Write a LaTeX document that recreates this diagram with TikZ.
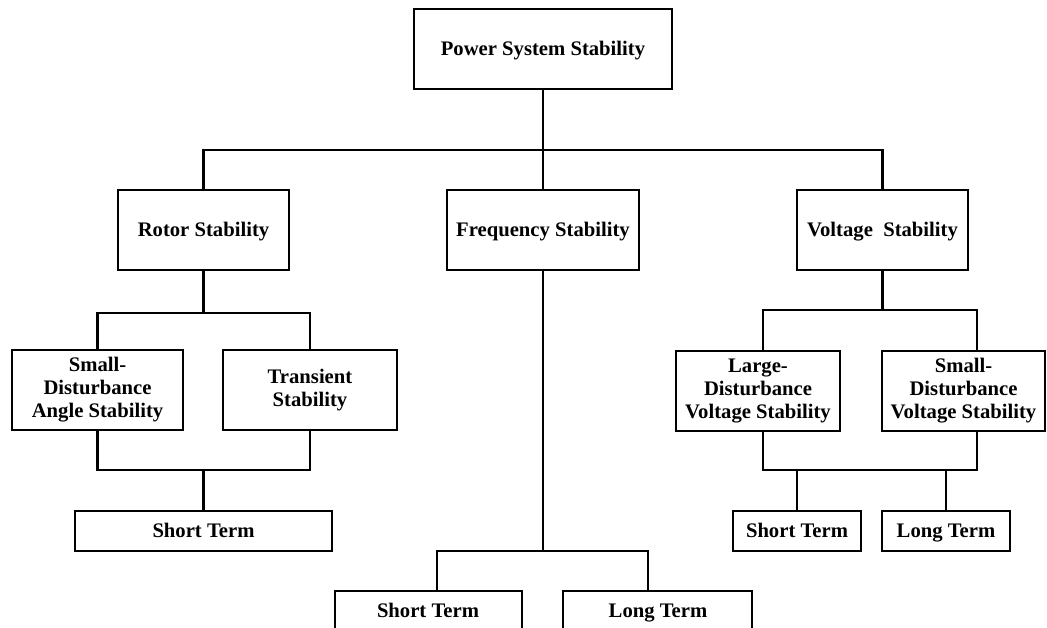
\documentclass[tikz,border=0pt]{standalone}
\usepackage{fontspec}
\setmainfont{Liberation Serif}
\begin{document}
\begin{tikzpicture}[x=0.75pt,y=-0.75pt,
  box/.style={draw, line width=2.2pt, inner sep=0pt, outer sep=0pt, align=center,
    font=\bfseries\fontsize{15.5}{17.3}\selectfont},
  oneline/.style={text height=10.2pt, text depth=0pt},
  lbl/.style={inner sep=0pt, outer sep=0pt, font=\bfseries\fontsize{15.5}{17.3}\selectfont},
  wire/.style={line width=2.2pt, line cap=rect}]
\clip (0,0) rectangle (1047,628);
\fill[white] (0,0) rectangle (1047,628);
% helper: box given corners
\newcommand{\bx}[7][]{%
  \node[box, #1, minimum width={(#5-#3)*0.75pt}, minimum height={(#6-#4)*0.75pt}]
    (#2) at ({(#3+#5)/2},{(#4+#6)/2}) {#7};}
\bx[oneline]{top}{414}{9}{672}{89}{Power System Stability}
\bx[oneline]{rotor}{118}{190}{289}{270}{Rotor Stability}
\bx[oneline]{freq}{447}{190}{639}{270}{Frequency Stability}
\bx[oneline]{volt}{797}{190}{968}{270}{Voltage~ Stability}
\bx{sda}{12}{350}{183}{430}{Small-\\Disturbance\\Angle Stability}
\bx{trans}{223}{350}{397}{430}{Transient\\Stability}
\bx{lvs}{676}{351}{840}{431}{Large-\\Disturbance\\Voltage Stability}
\bx{svs}{882}{351}{1045}{431}{Small-\\Disturbance\\Voltage Stability}
\bx[oneline]{rst}{75}{511}{332}{551}{Short Term}
\bx{fst}{335}{591}{522}{671}{}
\bx{flt}{563}{591}{752}{671}{}
\node[lbl, anchor=base] (fstt) at (428,617) {Short Term};
\node[lbl, anchor=base] (fltt) at (658,617) {Long Term};
\bx[oneline]{vst}{733}{511}{861}{551}{Short Term}
\bx[oneline]{vlt}{882}{511}{1010}{551}{Long Term}
% coordinates
\coordinate (b1) at (543,150);
\coordinate (b1L) at (203.5,150);
\coordinate (b1R) at (882.5,150);
\coordinate (r1) at (203.5,313);
\coordinate (r1L) at (97.5,313);
\coordinate (r1R) at (310,313);
\coordinate (r2) at (203.5,470);
\coordinate (r2L) at (97.5,470);
\coordinate (r2R) at (310,470);
\coordinate (f1) at (543,551);
\coordinate (f1L) at (437,551);
\coordinate (f1R) at (648,551);
\coordinate (v1) at (882.5,310);
\coordinate (v1L) at (763,310);
\coordinate (v1R) at (977,310);
\coordinate (v2L) at (763,470);
\coordinate (v2R) at (977,470);
\coordinate (v2a) at (797,470);
\coordinate (v2b) at (946,470);
% top level
\draw[wire] (top.south) -- (b1);
\draw[wire] (b1L) -- (b1R);
\draw[wire] (b1L) -- (rotor.north);
\draw[wire] (b1) -- (freq.north);
\draw[wire] (b1R) -- (volt.north);
% rotor branch
\draw[wire] (rotor.south) -- (r1);
\draw[wire] (r1L) -- (r1R);
\draw[wire] (r1L) -- (sda.north);
\draw[wire] (r1R) -- (trans.north);
\draw[wire] (sda.south) -- (r2L);
\draw[wire] (trans.south) -- (r2R);
\draw[wire] (r2L) -- (r2R);
\draw[wire] (r2) -- (rst.north);
% frequency branch
\draw[wire] (freq.south) -- (f1);
\draw[wire] (f1L) -- (f1R);
\draw[wire] (f1L) -- (f1L |- fst.north);
\draw[wire] (f1R) -- (f1R |- flt.north);
% voltage branch
\draw[wire] (volt.south) -- (v1);
\draw[wire] (v1L) -- (v1R);
\draw[wire] (v1L) -- (v1L |- lvs.north);
\draw[wire] (v1R) -- (v1R |- svs.north);
\draw[wire] (v1L |- lvs.south) -- (v2L);
\draw[wire] (v1R |- svs.south) -- (v2R);
\draw[wire] (v2L) -- (v2R);
\draw[wire] (v2a) -- (vst.north);
\draw[wire] (v2b) -- (vlt.north);
\end{tikzpicture}
\end{document}
